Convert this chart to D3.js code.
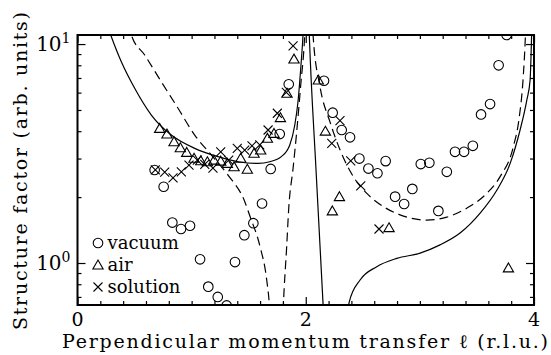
<!DOCTYPE html>
<html>
<head>
<meta charset="utf-8">
<script src="https://cdn.jsdelivr.net/npm/d3@7"></script>
<style>
  body { margin: 0; background: #fff; }
  svg { display: block; font-family: "DejaVu Serif", serif; }
</style>
</head>
<body>
<div id="chart"></div>
<script>
// measured points [l, structure factor]
const vacuum = [
  [0.676, 2.66], [0.755, 2.23], [0.831, 1.53], [0.907, 1.43], [0.986, 1.48],
  [1.074, 1.04], [1.146, 0.78], [1.229, 0.70], [1.307, 0.64], [1.38, 1.01],
  [1.462, 1.34], [1.541, 1.52], [1.617, 1.87], [1.693, 2.69], [1.772, 3.88],
  [1.851, 6.55], [2.16, 6.8], [2.236, 4.86], [2.315, 4.05], [2.388, 3.75],
  [2.47, 3.0], [2.549, 2.7], [2.628, 2.57], [2.70, 2.92], [2.783, 2.01],
  [2.862, 1.86], [2.934, 2.18], [3.008, 2.83], [3.083, 2.87], [3.162, 1.73],
  [3.236, 2.61], [3.308, 3.22], [3.387, 3.22], [3.464, 3.43], [3.536, 4.77],
  [3.615, 5.32], [3.69, 8.0], [3.76, 11.0]
];
const air = [
  [0.72, 4.12], [0.784, 3.88], [0.846, 3.58], [0.901, 3.36], [0.957, 3.2],
  [1.021, 3.01], [1.08, 2.93], [1.138, 2.90], [1.196, 2.95], [1.255, 2.92],
  [1.313, 2.85], [1.372, 2.75], [1.43, 3.01], [1.488, 2.68], [1.547, 3.17],
  [1.605, 3.28], [1.664, 3.71], [1.722, 3.91], [1.778, 4.61], [1.836, 5.96],
  [1.897, 8.54], [2.11, 6.85], [2.172, 4.0], [2.233, 1.73], [2.295, 2.01],
  [2.73, 1.45], [3.776, 0.95]
];
const solution = [
  [0.682, 2.66], [0.764, 2.60], [0.837, 2.45], [0.91, 2.61], [0.977, 2.80],
  [1.05, 2.95], [1.115, 2.82], [1.187, 2.71], [1.255, 3.22], [1.325, 2.95],
  [1.40, 3.34], [1.465, 3.28], [1.529, 3.43], [1.597, 3.46], [1.67, 4.05],
  [1.751, 4.83], [1.83, 6.02], [1.889, 9.82], [2.228, 3.52], [2.30, 4.47],
  [2.394, 2.93], [2.482, 2.25], [2.642, 1.43]
];

// model curves, one piece per visible branch
const solidCurves = [
  [[0.26, 12.2], [0.291, 11.0], [0.384, 8.30], [0.501, 6.28], [0.647, 4.74], [0.822, 3.84],
   [1.027, 3.34], [1.231, 3.06], [1.407, 2.90], [1.582, 2.85], [1.684, 2.90], [1.786, 3.06],
   [1.86, 3.46], [1.904, 4.27], [1.932, 5.45], [1.956, 7.74], [1.976, 11.0], [1.99, 16]],
  [[2.025, 13.5], [2.031, 11.0], [2.09, 2.66], [2.159, 0.55]],
  [[2.353, 0.55], [2.382, 0.666], [2.476, 0.836], [2.622, 0.962], [2.798, 1.05], [3.002, 1.11],
   [3.177, 1.21], [3.352, 1.37], [3.528, 1.69], [3.674, 2.15], [3.791, 2.85], [3.878, 4.05],
   [3.937, 5.55], [3.966, 6.85], [3.979, 10.9], [3.985, 14]]
];
const dashedCurves = [
  [[0.455, 12.5], [0.472, 11.0], [0.589, 8.91], [0.734, 6.73], [0.881, 5.09], [1.027, 3.84],
   [1.173, 3.11], [1.319, 2.52], [1.465, 1.91], [1.512, 1.63], [1.599, 1.19], [1.658, 0.836],
   [1.681, 0.643], [1.691, 0.52]],
  [[1.797, 0.52], [1.804, 0.643], [1.833, 1.19], [1.851, 1.78], [1.889, 2.71], [1.918, 3.84],
   [1.956, 6.50], [1.991, 11.0], [2.0, 14]],
  [[2.058, 13], [2.064, 11.0], [2.125, 6.38], [2.213, 4.4], [2.301, 3.28], [2.417, 2.48],
   [2.535, 2.08], [2.680, 1.81], [2.826, 1.66], [3.060, 1.57], [3.236, 1.62], [3.411, 1.78],
   [3.586, 2.08], [3.703, 2.48], [3.819, 3.40], [3.87, 4.6], [3.905, 7.0], [3.925, 11.0], [3.93, 13]]
];

const xMajor = [0, 2, 4];
const xMajorLabels = ["0", "2", "4"];
const xMinor = [0.2, 0.4, 0.6, 0.8, 1, 1.2, 1.4, 1.6, 1.8, 2.2, 2.4, 2.6, 2.8, 3, 3.2, 3.4, 3.6, 3.8];
const yMajor = [1, 10];
const yMajorExp = ["0", "1"];
const yMinor = [0.7, 0.8, 0.9, 2, 3, 4, 5, 6, 7, 8, 9];
const legendNames = ["vacuum", "air", "solution"];

const W = 551, H = 355;
const margin = {top: 35, right: 17, bottom: 50, left: 77.5},
    width = W - margin.left - margin.right,
    height = H - margin.top - margin.bottom;

const svg = d3.select("#chart")
  .append("svg")
  .attr("width", W)
  .attr("height", H)
  .append("g")
    .attr("transform", `translate(${margin.left},${margin.top})`);

const x = d3.scaleLinear().domain([0, 4]).range([0, width]);
const y = d3.scaleLog().domain([0.643, 11.0]).range([height, 0]);

svg.append("clipPath").attr("id", "plot-clip")
  .append("rect").attr("width", width).attr("height", height);

// ticks on all four sides, pointing inward
function ticks(axis, vals, size, transform) {
  const g = svg.append("g")
    .attr("transform", transform)
    .call(axis.tickValues(vals).tickSize(-size).tickFormat(""));
  g.select(".domain").remove();
  g.selectAll("line").attr("stroke", "#000").attr("stroke-width", 1.2);
  return g;
}
ticks(d3.axisBottom(x), xMinor, 4, `translate(0,${height})`);
ticks(d3.axisBottom(x), xMajor, 8, `translate(0,${height})`);
ticks(d3.axisTop(x), xMinor, 4, "translate(0,0)");
ticks(d3.axisTop(x), xMajor, 8, "translate(0,0)");
ticks(d3.axisLeft(y), yMinor, 4, "translate(0,0)");
ticks(d3.axisLeft(y), yMajor, 8, "translate(0,0)");
ticks(d3.axisRight(y), yMinor, 4, `translate(${width},0)`);
ticks(d3.axisRight(y), yMajor, 8, `translate(${width},0)`);

// x tick labels
svg.selectAll(".xlab")
  .data(xMajor)
  .join("text")
    .attr("x", d => x(d))
    .attr("y", height + 20.5)
    .attr("text-anchor", "middle")
    .style("font-size", "19px")
    .text((d, i) => xMajorLabels[i]);

// y tick labels 10^n
yMajor.forEach((v, i) => {
  const t = svg.append("text")
    .attr("x", -7)
    .attr("y", y(v) + 7)
    .attr("text-anchor", "end")
    .style("font-size", "20px");
  t.append("tspan").text("10");
  t.append("tspan").attr("dy", -8).style("font-size", "14px").text(yMajorExp[i]);
});

// curves
const line = d3.line()
  .x(d => x(d[0]))
  .y(d => y(d[1]))
  .curve(d3.curveMonotoneX);

const curves = svg.append("g").attr("clip-path", "url(#plot-clip)");
solidCurves.forEach(c => {
  curves.append("path").attr("d", line(c))
    .attr("fill", "none").attr("stroke", "#000").attr("stroke-width", 1.2);
});
dashedCurves.forEach(c => {
  curves.append("path").attr("d", line(c))
    .attr("fill", "none").attr("stroke", "#000").attr("stroke-width", 1.2)
    .attr("stroke-dasharray", "9,5");
});

// markers
const triangle = d3.symbol().type(d3.symbolTriangle).size(46);
const crossHalf = 4.5;

function drawCircle(g, cx, cy) {
  g.append("circle").attr("cx", cx).attr("cy", cy).attr("r", 4.8)
    .attr("fill", "none").attr("stroke", "#000").attr("stroke-width", 1.1);
}
function drawTriangle(g, cx, cy) {
  g.append("path").attr("d", triangle()).attr("transform", `translate(${cx},${cy + 1})`)
    .attr("fill", "none").attr("stroke", "#000").attr("stroke-width", 1.1);
}
function drawCross(g, cx, cy) {
  g.append("path")
    .attr("d", `M${cx - crossHalf},${cy - crossHalf}L${cx + crossHalf},${cy + crossHalf}` +
               `M${cx - crossHalf},${cy + crossHalf}L${cx + crossHalf},${cy - crossHalf}`)
    .attr("fill", "none").attr("stroke", "#000").attr("stroke-width", 1.1);
}

const marks = svg.append("g").attr("clip-path", "url(#plot-clip)");
vacuum.forEach(d => drawCircle(marks, x(d[0]), y(d[1])));
air.forEach(d => drawTriangle(marks, x(d[0]), y(d[1])));
solution.forEach(d => drawCross(marks, x(d[0]), y(d[1])));

// legend
const drawers = [drawCircle, drawTriangle, drawCross];
const legend = svg.append("g");
legendNames.forEach((name, i) => {
  const ly = 208 + i * 22;
  drawers[i](legend, 20.5, ly);
  legend.append("text")
    .attr("x", 30)
    .attr("y", ly + 5.5)
    .style("font-size", "18px")
    .text(name);
});

// frame
svg.append("rect")
  .attr("width", width)
  .attr("height", height)
  .attr("fill", "none")
  .attr("stroke", "#000")
  .attr("stroke-width", 2);

// axis titles
svg.append("text")
  .attr("x", (62 + 548) / 2 - margin.left)
  .attr("y", height + 43)
  .attr("text-anchor", "middle")
  .attr("textLength", 486)
  .attr("lengthAdjust", "spacing")
  .style("font-size", "19px")
  .text("Perpendicular momentum transfer \u2113 (r.l.u.)");

svg.append("text")
  .attr("transform", `translate(${27 - margin.left},${171 - margin.top}) rotate(-90)`)
  .attr("text-anchor", "middle")
  .attr("textLength", 318)
  .attr("lengthAdjust", "spacing")
  .style("font-size", "19px")
  .text("Structure factor (arb. units)");
</script>
</body>
</html>
